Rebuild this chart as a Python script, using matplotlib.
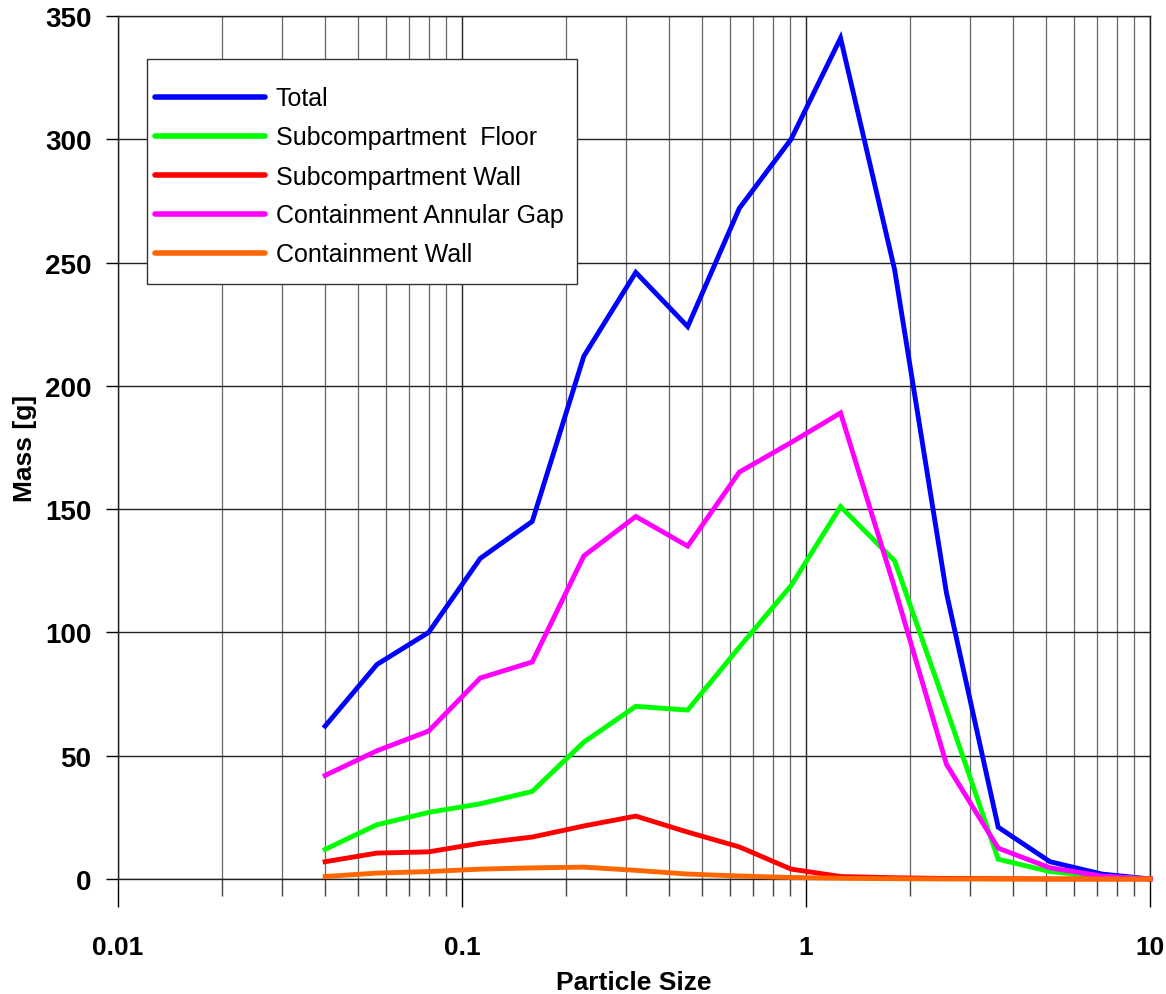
#! /usr/bin/python3

import numpy as np
import matplotlib
matplotlib.use('Agg')
import matplotlib.pyplot as plt
from matplotlib.patches import Rectangle
from matplotlib.ticker import FixedLocator, LogLocator, NullFormatter

# particle size bins
SIZE = [0.04, 0.0566, 0.08, 0.113, 0.16, 0.226, 0.32, 0.453, 0.64, 0.905,
        1.26, 1.81, 2.56, 3.62, 5.12, 7.24, 10.0]

TOTAL = [62, 87, 100, 130, 145, 212, 246, 224, 272, 300,
         341, 247, 116, 21, 7, 2, 0]
SUB_FLOOR = [12, 22, 27, 30.5, 35.5, 55.5, 70, 68.5, 94, 119,
             151, 129, 69, 8, 3, 1, 0]
SUB_WALL = [7, 10.5, 11, 14.5, 17, 21.5, 25.5, 19, 13, 4,
            1, 0.5, 0.2, 0.1, 0, 0, 0]
CONT_GAP = [42, 52, 60, 81.5, 88, 131, 147, 135, 165, 177,
            189, 118, 46.5, 12.5, 4.5, 1.2, 0]
CONT_WALL = [1, 2.4, 3, 4, 4.5, 4.8, 3.5, 2, 1.2, 0.6,
             0.3, 0.1, 0, 0, 0, 0, 0]

LABELS = ['Total', 'Subcompartment  Floor', 'Subcompartment Wall',
          'Containment Annular Gap', 'Containment Wall']
COLORS = ['#0000ff', '#00ff00', '#ff0000', '#ff00ff', '#ff6600']


def plot_mass():
    """ Mass distribution over particle size """
    plt.rcParams['font.family'] = ['Liberation Sans', 'DejaVu Sans']
    fig = plt.figure(figsize=(11.66, 9.95), dpi=100, facecolor='w')
    ax = fig.add_axes([0.1012, 0.1156, 0.8851, 0.8674])

    series = [TOTAL, SUB_FLOOR, SUB_WALL, CONT_GAP, CONT_WALL]
    for vals, lab, col in zip(series, LABELS, COLORS):
        ax.plot(SIZE, vals, color=col, linewidth=3.5, label=lab,
                solid_joinstyle='miter', clip_on=False, zorder=3)

    ax.set_xscale('log')
    ax.set_xlim(0.01, 10)
    ax.set_ylim(0, 350)
    ax.xaxis.set_major_locator(FixedLocator([0.01, 0.1, 1, 10]))
    ax.set_xticklabels(['0.01', '0.1', '1', '10'])
    ax.xaxis.set_minor_locator(LogLocator(base=10, subs=np.arange(2, 10)))
    ax.xaxis.set_minor_formatter(NullFormatter())
    ax.set_yticks(np.arange(0, 351, 50))

    ax.grid(which='major', axis='both', color='#222222', linewidth=1.0)
    ax.grid(which='minor', axis='x', color='#666666', linewidth=0.9)
    ax.set_axisbelow(True)

    for sp in ax.spines.values():
        sp.set_linewidth(1.0)
        sp.set_color('#222222')

    ax.tick_params(axis='x', which='major', direction='out', length=20,
                   width=1, pad=20, labelsize=19)
    ax.tick_params(axis='x', which='minor', direction='out', length=12,
                   width=1, color='#444444')
    ax.tick_params(axis='y', which='major', direction='out', length=9,
                   width=1, pad=10, labelsize=20)
    for lab in ax.get_xticklabels() + ax.get_yticklabels():
        lab.set_fontweight('bold')

    ax.set_xlabel('Particle Size', fontsize=19, fontweight='bold', labelpad=8)
    ax.set_ylabel('Mass [g]', fontsize=19, fontweight='bold', labelpad=6)

    # legend box drawn by hand, the entries sit inside it without a frame
    box = Rectangle((147 / 1166, 1 - 285 / 995), 430 / 1166, 225 / 995,
                    transform=fig.transFigure, facecolor='white',
                    edgecolor='#333333', linewidth=1.0, zorder=4,
                    clip_on=False)
    ax.add_patch(box)
    leg = ax.legend(loc='upper left', bbox_to_anchor=(147 / 1166, 1 - 80 / 995),
                    bbox_transform=fig.transFigure, fontsize=18,
                    frameon=False, handlelength=4.4, handletextpad=0.45,
                    labelspacing=0.6, borderpad=0.3, borderaxespad=0)
    leg.set_zorder(5)
    for line in leg.get_lines():
        line.set_linewidth(4)
        line.set_solid_capstyle('round')

    fig.savefig('out.png', dpi=100, facecolor='w')


def main():
    plot_mass()


if __name__ == '__main__':
    main()
